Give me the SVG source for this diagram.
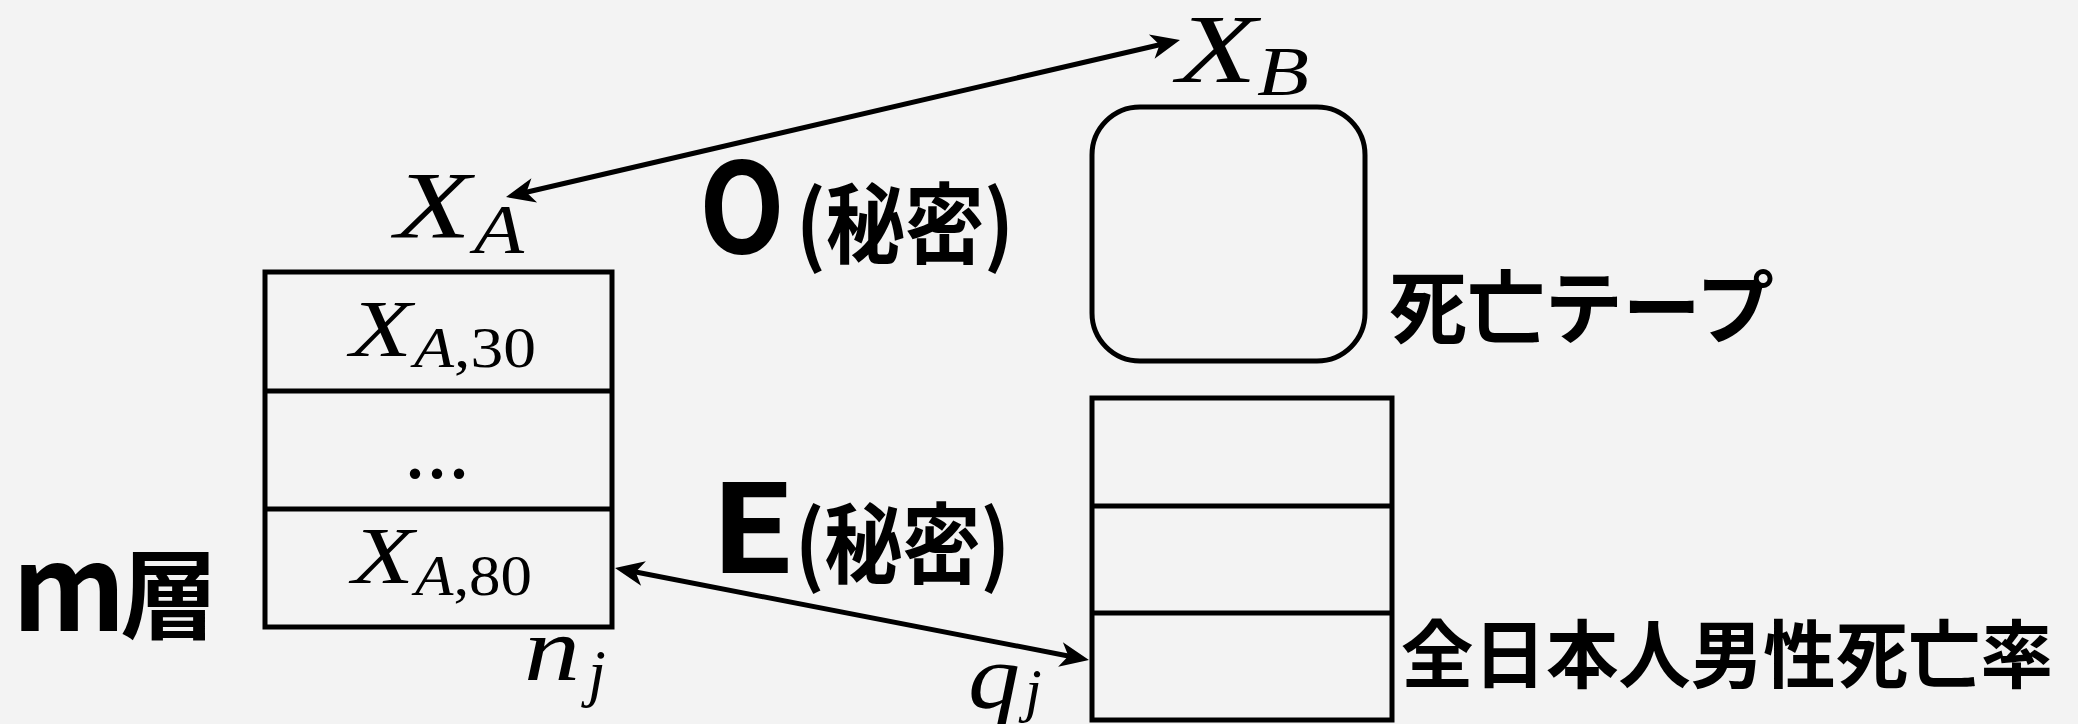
<svg xmlns="http://www.w3.org/2000/svg" width="2078" height="724" viewBox="0 0 2078 724">
  <style>
    .box { fill: none; stroke: #000; stroke-width: 5; }
    .link { fill: none; stroke: #000; stroke-width: 5; marker-start: url(#head); marker-end: url(#head); }
    .math { font-family: "Liberation Serif", "Times New Roman", serif; fill: #000; }
    .it { font-style: italic; }
    .jp { font-family: "Noto Sans CJK JP", "Noto Sans", sans-serif; font-weight: bold; fill: #000; }
  </style>
  <defs>
    <!-- notched arrowhead; tip sits 12px beyond the line end -->
    <marker id="head" viewBox="0 0 40 30" refX="28" refY="15" markerWidth="40" markerHeight="30" markerUnits="userSpaceOnUse" orient="auto-start-reverse">
      <path d="M40,15 L11,2.5 L19,15 L11,27.5 Z" fill="#000"/>
    </marker>
  </defs>

  <rect width="2078" height="724" fill="#f3f3f3"/>

  <!-- left stratum table -->
  <g id="stratum">
    <rect class="box" x="265" y="272" width="347" height="355"/>
    <line class="box" x1="265" y1="391" x2="612" y2="391"/>
    <line class="box" x1="265" y1="509" x2="612" y2="509"/>
    <text class="math it" x="350" y="356" font-size="80" textLength="62" lengthAdjust="spacingAndGlyphs">X</text>
    <text class="math" x="414" y="367" font-size="58" textLength="122" lengthAdjust="spacingAndGlyphs"><tspan class="it">A</tspan>,30</text>
    <text class="math" x="404" y="478" font-size="88">...</text>
    <text class="math it" x="352" y="583" font-size="80" textLength="62" lengthAdjust="spacingAndGlyphs">X</text>
    <text class="math" x="415" y="595" font-size="58" textLength="117" lengthAdjust="spacingAndGlyphs"><tspan class="it">A</tspan>,80</text>
  </g>

  <!-- left labels -->
  <g id="label-xa">
    <text class="math it" x="395" y="238" font-size="95" textLength="76" lengthAdjust="spacingAndGlyphs">X</text>
    <text class="math it" x="474" y="253" font-size="70" textLength="50" lengthAdjust="spacingAndGlyphs">A</text>
  </g>
  <g id="label-nj">
    <text class="math it" x="524" y="680" font-size="92" textLength="56" lengthAdjust="spacingAndGlyphs">n</text>
    <text class="math it" x="588" y="694" font-size="64">j</text>
  </g>
  <g id="label-m">
    <text class="jp" y="631"><tspan x="12" font-size="118">m</tspan><tspan x="120" font-size="98">層</tspan></text>
  </g>

  <!-- death tape -->
  <g id="tape">
    <rect class="box" x="1092" y="107" width="273" height="254" rx="48" ry="48"/>
    <text class="math it" x="1177" y="82" font-size="97" textLength="80" lengthAdjust="spacingAndGlyphs">X</text>
    <text class="math it" x="1257" y="95" font-size="70" textLength="52" lengthAdjust="spacingAndGlyphs">B</text>
    <text class="jp" x="1389" y="337" font-size="80" textLength="385" lengthAdjust="spacingAndGlyphs">死亡テープ</text>
  </g>

  <!-- national male mortality table -->
  <g id="mortality">
    <rect class="box" x="1092" y="398" width="300" height="322"/>
    <line class="box" x1="1092" y1="506" x2="1392" y2="506"/>
    <line class="box" x1="1092" y1="613" x2="1392" y2="613"/>
    <text class="math it" x="968" y="708" font-size="92" textLength="52" lengthAdjust="spacingAndGlyphs">q</text>
    <text class="math it" x="1025" y="710" font-size="60">j</text>
    <text class="jp" x="1401" y="682" font-size="74" textLength="652" lengthAdjust="spacingAndGlyphs">全日本人男性死亡率</text>
  </g>

  <!-- link labels -->
  <g id="label-o">
    <text class="jp" x="699" y="253" font-size="125" textLength="86" lengthAdjust="spacingAndGlyphs">O</text>
    <text class="jp" x="796" y="256" font-size="88" textLength="218" lengthAdjust="spacingAndGlyphs">(秘密)</text>
  </g>
  <g id="label-e">
    <text class="jp" x="710" y="573" font-size="123" textLength="86" lengthAdjust="spacingAndGlyphs">E</text>
    <text class="jp" x="795" y="576" font-size="88" textLength="215" lengthAdjust="spacingAndGlyphs">(秘密)</text>
  </g>

  <!-- connectors -->
  <g id="connectors">
    <line class="link" x1="517.7" y1="194.3" x2="1168.3" y2="42.7"/>
    <line class="link" x1="626.8" y1="570.3" x2="1077.2" y2="657.7"/>
  </g>
</svg>
